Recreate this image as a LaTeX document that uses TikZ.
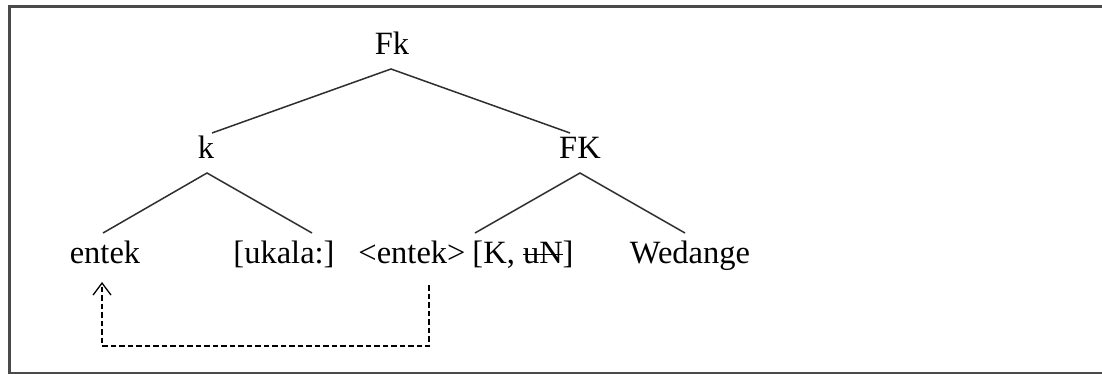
\documentclass[tikz,border=0pt]{standalone}
\usepackage{fontspec}
\setmainfont{Liberation Serif}
\usetikzlibrary{calc,arrows.meta}
\definecolor{framegray}{HTML}{4A4A4A}
\definecolor{linegray}{HTML}{2E2E2E}
% struck-through text: a thin rule laid over the letters
\newcommand{\struckout}[1]{\setbox0=\hbox{#1}\rlap{\rule[0.24em]{\wd0}{1.2pt}}\box0}
\begin{document}
\begin{tikzpicture}[x=1pt,y=-1pt,
  lbl/.style={anchor=base,inner sep=0pt,font=\fontsize{32.5}{39}\selectfont},
  branch/.style={draw=linegray,line width=1.5pt},
  movement/.style={draw=black,line width=1.3pt,dash pattern=on 5.5pt off 3pt,
    -{Straight Barb[length=12pt,width=18pt,line width=1.3pt]}}]
\useasboundingbox (0,0) rectangle (1102,374);
% frame
\draw[framegray,line width=2.7pt] (1110,6.7) -- (9.3,6.7) -- (9.3,373) -- (1110,373);

% tree labels
\node[lbl] (fk)  at (392,55)  {Fk};
\node[lbl] (k)   at (206,159) {k};
\node[lbl] (FK)  at (580,159) {FK};
\node[lbl] (en1) at (105,263) {entek};
\node[lbl] (uk)  at (284,263) {[ukala:]};
\node[lbl] (en2) at (412,263) {<entek>};
\node[lbl] (kun) at (523,263) {[K, \struckout{uN}]};
\node[lbl] (wed) at (690,263) {Wedange};

% branches
\draw[branch] ($(k.base)+(6,-26)$) -- ($(fk.base)+(-1,14)$) -- ($(FK.base)+(-10,-26)$);
\draw[branch] ($(en1.base)+(-2,-30)$) -- ($(k.base)+(1,14)$) -- ($(uk.base)+(28,-30)$);
\draw[branch] ($(kun.base)+(-48,-30)$) -- ($(FK.base)+(0,14)$) -- ($(wed.base)+(-5,-30)$);

% movement arrow
\coordinate (mstart) at ($(en2.base)+(17,22)$);
\coordinate (mturn)  at ($(en2.base)+(17,83)$);
\coordinate (mend)   at ($(en1.base)+(-3,19)$);
\draw[movement] (mstart) -- (mturn) -| (mend);
\end{tikzpicture}
\end{document}
